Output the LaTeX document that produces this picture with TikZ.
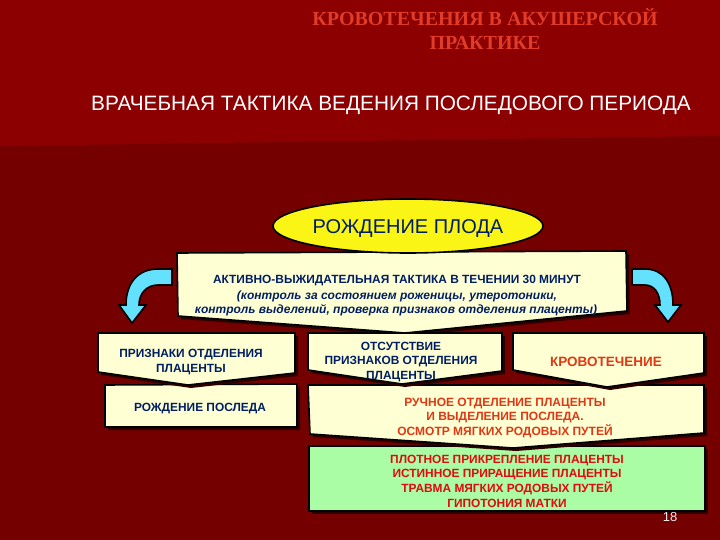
\documentclass[tikz,border=0pt]{standalone}
\usepackage{fontspec}
\setmainfont{Liberation Sans}
\newfontfamily\serifbf{Liberation Serif}
\usetikzlibrary{shapes.geometric}
\definecolor{bgtop}{RGB}{140,0,2}
\definecolor{bgbot}{RGB}{117,0,0}
\definecolor{cream}{RGB}{255,255,212}
\definecolor{ylw}{RGB}{250,245,20}
\definecolor{navy}{RGB}{0,30,100}
\definecolor{orng}{RGB}{225,55,20}
\definecolor{redt}{RGB}{225,10,15}
\definecolor{cyanA}{RGB}{100,225,255}
\definecolor{grn}{RGB}{170,252,165}
\definecolor{shad}{RGB}{45,0,0}
\definecolor{titc}{RGB}{225,60,40}
\begin{document}
\begin{tikzpicture}[x=1pt,y=-1pt,
 boxshape/.style={fill=cream,draw=black,line width=1.6pt,line join=miter},
 greenshape/.style={boxshape,fill=grn},
 shadowshape/.style={fill=shad,draw=none,shift={(3,3)}},
 arrowshape/.style={fill=cyanA,draw=black,line width=1.6pt,line join=miter},
 txt/.style={font=\bfseries\fontsize{11.9}{14.2}\selectfont,align=center,inner sep=0pt,yshift=-2pt},
 itxt/.style={font=\bfseries\itshape\fontsize{12}{14}\selectfont,inner sep=0pt,yshift=-2pt},
]
\useasboundingbox (0,0) rectangle (720,540);
\fill[bgbot] (0,0) rectangle (720,540);
\fill[bgtop] (0,0) -- (720,0) -- (720,136) -- (0,146) -- cycle;

% titles
\node[font=\serifbf\bfseries\fontsize{20}{24}\selectfont,text=titc,align=center,inner sep=0pt] (title) at (485,29) {КРОВОТЕЧЕНИЯ В АКУШЕРСКОЙ\\ПРАКТИКЕ};
\node[font=\fontsize{20.8}{22}\selectfont,text=white,inner sep=0pt] (sub) at (391,105) {ВРАЧЕБНАЯ ТАКТИКА ВЕДЕНИЯ ПОСЛЕДОВОГО ПЕРИОДА};

% main box
\path[shadowshape] (177,253) -- (626,251) -- (627,311) -- (405,333) -- (178,316) -- cycle;
\path[boxshape] (177,253) -- (626,251) -- (627,311) -- (405,333) -- (178,316) -- cycle;
\node[ellipse,draw=black,line width=1.6pt,fill=ylw,minimum width=270pt,minimum height=54pt,inner sep=0pt,
  font=\fontsize{20}{22}\selectfont,text=navy] (birth) at (408,226) {};
\node[font=\fontsize{20}{22}\selectfont,text=navy,inner sep=0pt,yshift=-3pt] (birthtxt) at (birth.center) {РОЖДЕНИЕ ПЛОДА};
\node[txt,text=navy] (tact) at (397,279) {АКТИВНО-ВЫЖИДАТЕЛЬНАЯ ТАКТИКА В ТЕЧЕНИИ 30 МИНУТ};
\node[itxt,text=navy] (ctl1) at (397,294) {(контроль за состоянием роженицы, утеротоники,};
\node[itxt,text=navy] (ctl2) at (396,308) {контроль выделений, проверка признаков отделения плаценты)};

% arrows
\path[arrowshape] (172,269) -- (158,269) .. controls (138,269) and (126,283) .. (126,305) -- (119,305) -- (132,323) -- (146,305) -- (139,305) .. controls (139,293) and (147,285) .. (158,285) -- (172,285) -- cycle;
\path[arrowshape] (632,269) -- (645,269) .. controls (663,269) and (673,283) .. (673,305) -- (681,305) -- (668,322) -- (655,305) -- (660,305) .. controls (660,293) and (654,285) .. (645,285) -- (632,285) -- cycle;

% lower boxes
\path[shadowshape] (309,446) rectangle (705,511);
\path[greenshape] (309,446) rectangle (705,511);
\path[shadowshape] (308,385) -- (704,385) -- (704,433) -- (513,448) -- (310,434) -- cycle;
\path[boxshape] (308,385) -- (704,385) -- (704,433) -- (513,448) -- (310,434) -- cycle;
\path[shadowshape] (105,385) -- (297,384) -- (297,427) -- (105,427) -- cycle;
\path[boxshape] (105,385) -- (297,384) -- (297,427) -- (105,427) -- cycle;
\path[shadowshape] (98,333) -- (295,333) -- (295,373) -- (188,385) -- (98,372) -- cycle;
\path[boxshape] (98,333) -- (295,333) -- (295,373) -- (188,385) -- (98,372) -- cycle;
\path[shadowshape] (308,333) -- (502,333) -- (502,371) -- (402,384) -- (308,370) -- cycle;
\path[boxshape] (308,333) -- (502,333) -- (502,371) -- (402,384) -- (308,370) -- cycle;
\path[shadowshape] (513,333) -- (704,333) -- (704,373) -- (607,387) -- (513,370) -- cycle;
\path[boxshape] (513,333) -- (704,333) -- (704,373) -- (607,387) -- (513,370) -- cycle;

\node[txt,text=navy] (signs) at (191,360) {ПРИЗНАКИ ОТДЕЛЕНИЯ\\ПЛАЦЕНТЫ};
\node[txt,text=navy] (after) at (200,407) {РОЖДЕНИЕ ПОСЛЕДА};
\node[txt,text=navy] (nosigns) at (401,360) {ОТСУТСТВИЕ\\ПРИЗНАКОВ ОТДЕЛЕНИЯ\\ПЛАЦЕНТЫ};
\node[txt,text=orng,font=\bfseries\fontsize{13.5}{15}\selectfont] (bleed) at (606,360) {КРОВОТЕЧЕНИЕ};
\node[txt,text=orng,font=\bfseries\fontsize{12}{14.5}\selectfont] (manual) at (505,416) {РУЧНОЕ ОТДЕЛЕНИЕ ПЛАЦЕНТЫ\\И ВЫДЕЛЕНИЕ ПОСЛЕДА.\\ОСМОТР МЯГКИХ РОДОВЫХ ПУТЕЙ};
\node[txt,text=redt,font=\bfseries\fontsize{11.9}{14.7}\selectfont] (causes) at (507,479) {ПЛОТНОЕ ПРИКРЕПЛЕНИЕ ПЛАЦЕНТЫ\\ИСТИННОЕ ПРИРАЩЕНИЕ ПЛАЦЕНТЫ\\ТРАВМА МЯГКИХ РОДОВЫХ ПУТЕЙ\\ГИПОТОНИЯ МАТКИ};
\node[font=\fontsize{13}{14}\selectfont,text=white!85!gray,inner sep=0pt] (pg) at (670,517) {18};
\end{tikzpicture}
\end{document}
